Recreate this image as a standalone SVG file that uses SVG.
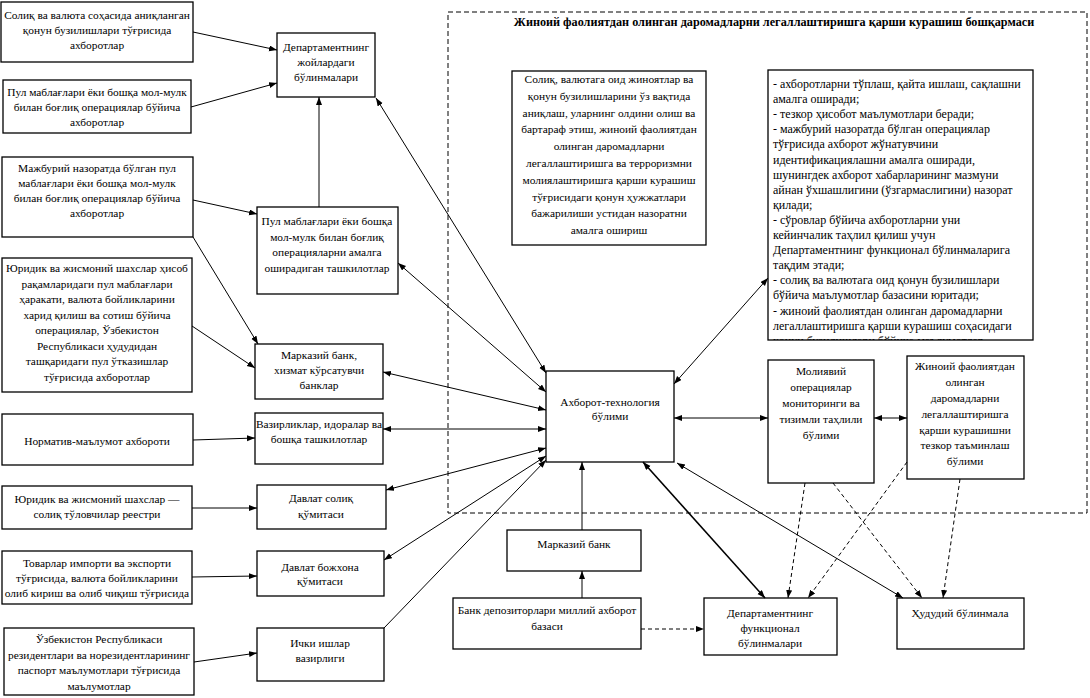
<svg xmlns="http://www.w3.org/2000/svg" width="1090" height="698" viewBox="0 0 1090 698">
<style>
.b{fill:#fff;stroke:#000;stroke-width:1.3}
text{font-family:"Liberation Serif","Times New Roman",serif;font-size:11.4px;fill:#000}
.c{text-anchor:middle}
.t{font-weight:bold;font-size:12.2px;text-anchor:middle}
.li text{font-size:12px}
.l{stroke:#000;stroke-width:1;fill:none}
.s{marker-end:url(#a)}
.d{marker-start:url(#a);marker-end:url(#a)}
.k{stroke-width:1.6}
.ds{stroke-dasharray:4,3}
</style>
<defs>
<marker id="a" markerWidth="9" markerHeight="7" refX="8" refY="3" orient="auto-start-reverse" markerUnits="userSpaceOnUse"><path d="M0,0 L8,3 L0,6 z" fill="#000"/></marker>
<clipPath id="cl"><rect x="768" y="70" width="265" height="270"/></clipPath>
</defs>
<rect x="448" y="12" width="639" height="501" fill="none" stroke="#000" stroke-width="1" stroke-dasharray="5,3"/>
<text class="t" x="774" y="26">Жиноий фаолиятдан олинган даромадларни легаллаштиришга қарши курашиш бошқармаси</text>

<g id="n1"><rect class="b" x="1" y="2" width="192" height="60"/><text class="c" x="97" y="19">Солиқ ва валюта соҳасида аниқланган</text><text class="c" x="97" y="34">қонун бузилишлари тўғрисида</text><text class="c" x="97" y="49">ахборотлар</text></g>
<g id="n2"><rect class="b" x="3" y="80" width="188" height="53"/><text class="c" x="97" y="96">Пул маблағлари ёки бошқа мол-мулк</text><text class="c" x="97" y="111">билан боғлиқ операциялар бўйича</text><text class="c" x="97" y="126">ахборотлар</text></g>
<g id="n3"><rect class="b" x="2" y="157" width="191" height="80"/><text class="c" x="97" y="172">Мажбурий назоратда бўлган пул</text><text class="c" x="97" y="187">маблағлари ёки бошқа мол-мулк</text><text class="c" x="97" y="202">билан  боғлиқ операциялар бўйича</text><text class="c" x="97" y="217">ахборотлар</text></g>
<g id="n4"><rect class="b" x="2" y="258" width="190" height="134"/><text class="c" x="97" y="272">Юридик ва жисмоний шахслар ҳисоб</text><text class="c" x="97" y="287.5">рақамларидаги пул маблағлари</text><text class="c" x="97" y="303">ҳаракати, валюта бойликларини</text><text class="c" x="97" y="318.5">харид қилиш ва сотиш бўйича</text><text class="c" x="97" y="334">операциялар, Ўзбекистон</text><text class="c" x="97" y="349.5">Республикаси ҳудудидан</text><text class="c" x="97" y="365">ташқаридаги пул ўтказишлар</text><text class="c" x="97" y="380.5">тўғрисида ахборотлар</text></g>
<g id="n5"><rect class="b" x="2" y="414" width="191" height="51"/><text class="c" x="97" y="445">Норматив-маълумот ахбороти</text></g>
<g id="n6"><rect class="b" x="2" y="486" width="190" height="43"/><text class="c" x="97" y="503">Юридик ва жисмоний шахслар —</text><text class="c" x="97" y="518">солиқ тўловчилар реестри</text></g>
<g id="n7"><rect class="b" x="2" y="551" width="190" height="53"/><text class="c" x="97" y="567">Товарлар импорти ва экспорти</text><text class="c" x="97" y="582">тўғрисида, валюта бойликларини</text><text class="c" x="97" y="597">олиб кириш ва олиб чиқиш тўғрисида</text></g>
<g id="n8"><rect class="b" x="4" y="628" width="190" height="67"/><text class="c" x="99" y="643">Ўзбекистон Республикаси</text><text class="c" x="99" y="658.5">резидентлари ва норезидентларининг</text><text class="c" x="99" y="674">паспорт маълумотлари тўғрисида</text><text class="c" x="99" y="689.5">маълумотлар</text></g>

<g id="m1"><rect class="b" x="277" y="33" width="98" height="64"/><text class="c" x="326" y="51">Департаментнинг</text><text class="c" x="326" y="66">жойлардаги</text><text class="c" x="326" y="81">бўлинмалари</text></g>
<g id="m2"><rect class="b" x="257" y="207" width="141" height="87"/><text class="c" x="327" y="225">Пул маблағлари ёки бошқа</text><text class="c" x="327" y="240.5">мол-мулк билан боғлиқ</text><text class="c" x="327" y="256">операцияларни амалга</text><text class="c" x="327" y="271.5">оширадиган ташкилотлар</text></g>
<g id="m3"><rect class="b" x="255" y="344" width="128" height="55"/><text class="c" x="319" y="359">Марказий банк,</text><text class="c" x="319" y="374">хизмат кўрсатувчи</text><text class="c" x="319" y="389">банклар</text></g>
<g id="m4"><rect class="b" x="255" y="413" width="128" height="51"/><text class="c" x="319" y="428">Вазирликлар, идоралар ва</text><text class="c" x="319" y="443">бошқа ташкилотлар</text></g>
<g id="m5"><rect class="b" x="257" y="485" width="129" height="44"/><text class="c" x="321" y="502">Давлат солиқ</text><text class="c" x="321" y="518">қўмитаси</text></g>
<g id="m6"><rect class="b" x="257" y="551" width="127" height="45"/><text class="c" x="320" y="571">Давлат божхона</text><text class="c" x="320" y="585">қўмитаси</text></g>
<g id="m7"><rect class="b" x="257" y="628" width="127" height="53"/><text class="c" x="320" y="647">Ички ишлар</text><text class="c" x="320" y="662">вазирлиги</text></g>

<g id="r1"><rect class="b" x="512" y="71" width="194" height="174"/><text class="c" x="609" y="83">Солиқ, валютага оид жиноятлар ва</text><text class="c" x="609" y="99.8">қонун бузилишларини ўз вақтида</text><text class="c" x="609" y="116.6">аниқлаш, уларнинг олдини олиш ва</text><text class="c" x="609" y="133.4">бартараф этиш, жиноий фаолиятдан</text><text class="c" x="609" y="150.2">олинган даромадларни</text><text class="c" x="609" y="167">легаллаштиришга ва терроризмни</text><text class="c" x="609" y="183.8">молиялаштиришга қарши курашиш</text><text class="c" x="609" y="200.6">тўғрисидаги қонун ҳужжатлари</text><text class="c" x="609" y="217.4">бажарилиши устидан назоратни</text><text class="c" x="609" y="234.2">амалга ошириш</text></g>
<g id="r2" class="li"><rect class="b" x="768" y="70" width="265" height="270"/><g clip-path="url(#cl)"><text x="773" y="88">- ахборотларни тўплаш, қайта ишлаш, сақлашни</text><text x="773" y="103.1">амалга оширади;</text><text x="773" y="118.2">- тезкор ҳисобот маълумотлари беради;</text><text x="773" y="133.3">- мажбурий назоратда бўлган операциялар</text><text x="773" y="148.4">тўғрисида ахборот жўнатувчини</text><text x="773" y="163.5">идентификациялашни амалга оширади,</text><text x="773" y="178.6">шунингдек ахборот хабарларининг мазмуни</text><text x="773" y="193.7">айнан ўхшашлигини (ўзгармаслигини) назорат</text><text x="773" y="208.8">қилади;</text><text x="773" y="223.9">- сўровлар бўйича ахборотларни уни</text><text x="773" y="239">кейинчалик таҳлил қилиш учун</text><text x="773" y="254.1">Департаментнинг функционал бўлинмаларига</text><text x="773" y="269.2">тақдим этади;</text><text x="773" y="284.3">- солиқ ва валютага оид қонун бузилишлари</text><text x="773" y="299.4">бўйича  маълумотлар базасини юритади;</text><text x="773" y="314.5">- жиноий фаолиятдан олинган даромадларни</text><text x="773" y="329.6">легаллаштиришга қарши курашиш соҳасидаги</text><text x="773" y="344.7">қонун бузилишлари бўйича маълумотлар</text></g></g>
<g id="ct"><rect class="b" x="546" y="371" width="128" height="91"/><text class="c" x="610" y="406">Ахборот-технология</text><text class="c" x="610" y="420">бўлими</text></g>
<g id="mf"><rect class="b" x="768" y="360" width="106" height="123"/><text class="c" x="821" y="375">Молиявий</text><text class="c" x="821" y="391">операциялар</text><text class="c" x="821" y="407">мониторинги ва</text><text class="c" x="821" y="423">тизимли таҳлили</text><text class="c" x="821" y="439">бўлими</text></g>
<g id="tz"><rect class="b" x="907" y="356" width="117" height="123"/><text class="c" x="965" y="370">Жиноий фаолиятдан</text><text class="c" x="965" y="386">олинган</text><text class="c" x="965" y="402">даромадларни</text><text class="c" x="965" y="417.5">легаллаштиришга</text><text class="c" x="965" y="433.5">қарши курашишни</text><text class="c" x="965" y="449">тезкор таъминлаш</text><text class="c" x="965" y="465">бўлими</text></g>
<g id="mb"><rect class="b" x="507" y="530" width="134" height="41"/><text class="c" x="574" y="548">Марказий банк</text></g>
<g id="bd"><rect class="b" x="453" y="598" width="188" height="51"/><text class="c" x="547" y="614">Банк депозиторлари миллий ахборот</text><text class="c" x="547" y="630">базаси</text></g>
<g id="df"><rect class="b" x="704" y="598" width="133" height="57"/><text class="c" x="770" y="617">Департаментнинг</text><text class="c" x="770" y="632">функционал</text><text class="c" x="770" y="647">бўлинмалари</text></g>
<g id="hb"><rect class="b" x="897" y="598" width="127" height="51"/><text class="c" x="960" y="617">Ҳудудий бўлинмала</text></g>

<g id="connectors">
<line class="l s" x1="193" y1="32" x2="277" y2="50"/>
<line class="l s" x1="191" y1="107" x2="277" y2="83"/>
<line class="l s" x1="193" y1="200" x2="257" y2="214"/>
<line class="l s" x1="193" y1="237" x2="258" y2="344"/>
<line class="l s" x1="192" y1="326" x2="255" y2="368"/>
<line class="l s" x1="193" y1="440" x2="255" y2="438"/>
<line class="l s" x1="192" y1="508" x2="257" y2="508"/>
<line class="l s" x1="192" y1="577" x2="257" y2="576"/>
<line class="l s" x1="194" y1="662" x2="257" y2="653"/>
<line class="l s" x1="319" y1="207" x2="319" y2="97"/>
<line class="l d" x1="376" y1="98" x2="546" y2="373"/>
<line class="l d" x1="398" y1="263" x2="546" y2="392"/>
<line class="l d" x1="383" y1="372" x2="546" y2="410"/>
<line class="l d" x1="383" y1="429" x2="546" y2="429"/>
<line class="l d" x1="386" y1="490" x2="546" y2="448"/>
<line class="l d" x1="384" y1="560" x2="546" y2="456"/>
<line class="l s" x1="384" y1="628" x2="546" y2="460"/>
<line class="l d" x1="674" y1="384" x2="768" y2="278"/>
<line class="l d" x1="674" y1="418" x2="768" y2="418"/>
<line class="l d" x1="874" y1="418" x2="907" y2="418"/>
<line class="l d k" x1="643" y1="462" x2="765" y2="598"/>
<line class="l d" x1="677" y1="463" x2="903" y2="598"/>
<line class="l s" x1="582" y1="530" x2="582" y2="462"/>
<line class="l s" x1="582" y1="598" x2="582" y2="571"/>
<line class="l s ds" x1="641" y1="629" x2="704" y2="629"/>
<line class="l s ds" x1="805" y1="483" x2="788" y2="598"/>
<line class="l s ds" x1="833" y1="483" x2="922" y2="598"/>
<line class="l s ds" x1="907" y1="462" x2="808" y2="598"/>
<line class="l s ds" x1="960" y1="479" x2="943" y2="598"/>
</g>
</svg>
